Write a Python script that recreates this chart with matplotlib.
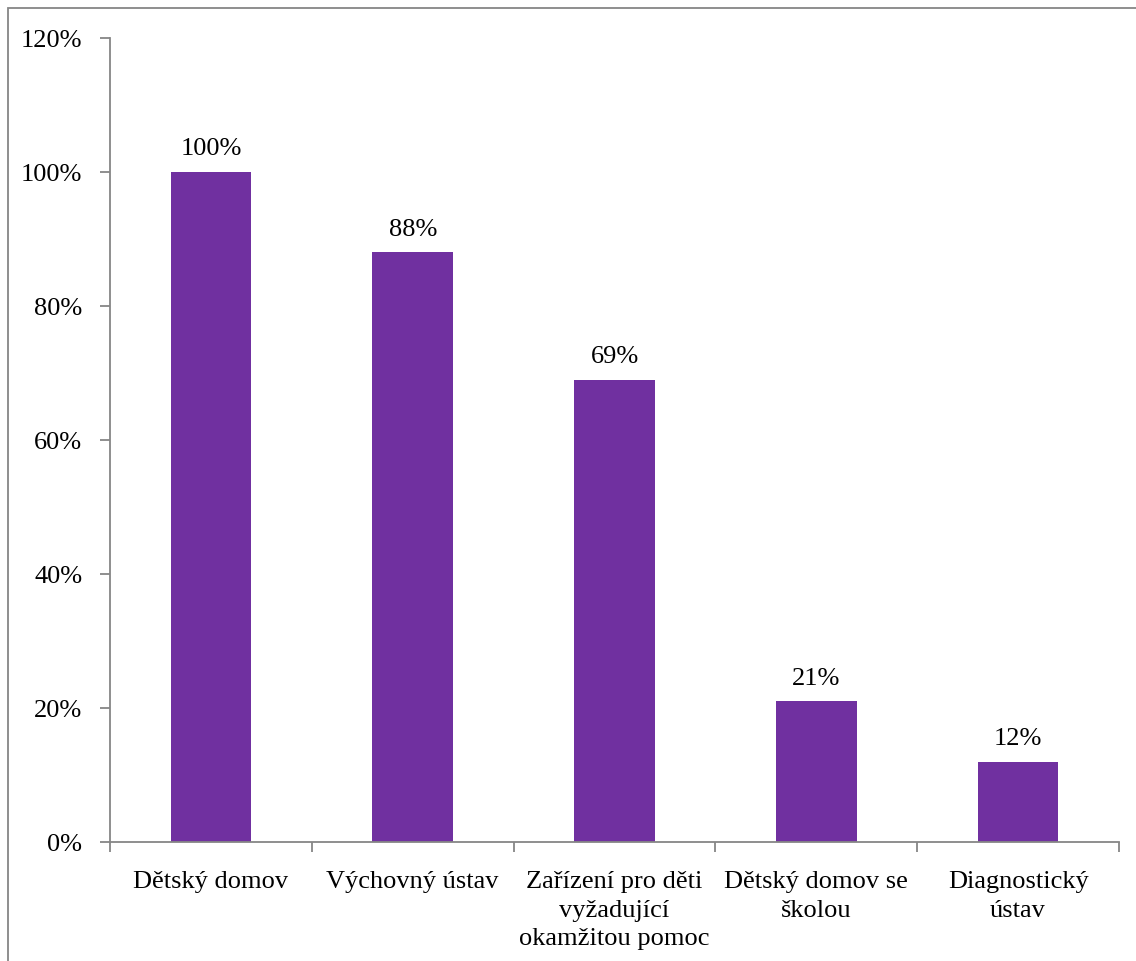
import matplotlib.pyplot as plt
from matplotlib.patches import Rectangle
from matplotlib.ticker import FixedLocator

plt.rcParams['font.family'] = ['Liberation Serif', 'DejaVu Serif']

categories = ["Dětský domov", "Výchovný ústav", "Zařízení pro děti\nvyžadující\nokamžitou pomoc",
              "Dětský domov se\nškolou", "Diagnostický\nústav"]
values = [100, 88, 69, 21, 12]
yticks = [0, 20, 40, 60, 80, 100, 120]

fig = plt.figure(figsize=(11.36, 9.62), dpi=100)
ax = fig.add_axes([110/1136, 1 - 843/962, 1009/1136, (843 - 39)/962])

x = range(len(values))
ax.bar(x, values, width=0.4, color="#7030A0")
for i, v in zip(x, values):
    ax.annotate(f"{v}%", (i, v), xytext=(0, 9), textcoords="offset points",
                ha="center", va="bottom", fontsize=19)

ax.set_xlim(-0.5, len(values) - 0.5)
ax.set_ylim(0, 120)
ax.set_yticks(yticks)
ax.set_yticklabels([f"{t}%" for t in yticks], fontsize=19)
ax.set_xticks(list(x))
ax.set_xticklabels(categories, fontsize=19, linespacing=1.4)
ax.xaxis.set_minor_locator(FixedLocator([i - 0.5 for i in range(len(values) + 1)]))
ax.tick_params(axis="x", which="major", length=0, pad=20)
ax.tick_params(axis="x", which="minor", length=7, color="#868686", width=1.3)
ax.tick_params(axis="y", length=7, color="#868686", width=1.3, pad=13)

for s in ["top", "right"]:
    ax.spines[s].set_visible(False)
for s in ["left", "bottom"]:
    ax.spines[s].set_color("#868686")
    ax.spines[s].set_linewidth(1.3)

fig.patches.append(Rectangle((8/1136, -0.1), 1.2, 1 - 9/962 + 0.1, transform=fig.transFigure,
                             fill=False, edgecolor="#868686", linewidth=1.3))

fig.savefig("out.png", dpi=100)
